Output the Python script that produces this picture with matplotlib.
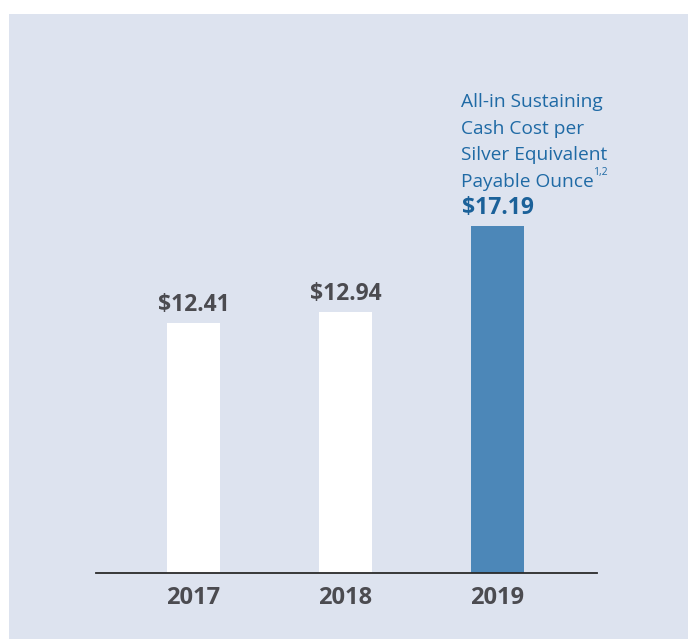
import matplotlib
matplotlib.use("Agg")
import matplotlib.pyplot as plt
from matplotlib.patches import Rectangle

years = ["2017", "2018", "2019"]
values = [12.41, 12.94, 17.19]
value_labels = ["$12.41", "$12.94", "$17.19"]
title_lines = ["All-in Sustaining", "Cash Cost per", "Silver Equivalent", "Payable Ounce"]
footnote = "1,2"

BG = "#dde3ef"
GREY = "#4b4b50"
BLUE_TXT = "#1f6aa5"
BLUE_VAL = "#1b6199"
BAR_BLUE = "#4c87b8"

plt.rcParams['font.family'] = ['Open Sans', 'DejaVu Sans']

W, H = 688, 639
fig = plt.figure(figsize=(W / 100, H / 100), dpi=100, facecolor="white")
fig.patches.append(Rectangle((9 / W, 0), 1 - 9 / W, 1 - 14 / H, transform=fig.transFigure,
                             facecolor=BG, edgecolor="none", zorder=-10))

ax = fig.add_axes([96 / W, (H - 573) / H, 501 / W, 513 / H])
ax.set_zorder(1)
ax.set_facecolor("none")
x = list(range(len(years)))
colors = ["white", "white", BAR_BLUE]
ax.bar(x, values, width=0.349, color=colors, edgecolor="none", zorder=2)
ax.set_xlim(-0.641, 2.655)
ax.set_ylim(0, 25.42)

for s in ["top", "right", "left"]:
    ax.spines[s].set_visible(False)
ax.spines["bottom"].set_color("#2a2a2a")
ax.spines["bottom"].set_linewidth(1.3)
ax.spines["bottom"].set_zorder(3)
ax.set_yticks([])
ax.set_xticks(x)
ax.set_xticklabels(years, fontsize=17, fontweight="bold", color=GREY)
ax.tick_params(axis="x", length=0, pad=9)

for i, (v, lab) in enumerate(zip(values, value_labels)):
    c = BLUE_VAL if i == 2 else GREY
    ax.annotate(lab, xy=(i, v), xytext=(0, 8.6), textcoords="offset points",
                ha="center", va="baseline", fontsize=16.5, fontweight="bold", color=c)

# title lines above the 2019 bar
offsets = [85.7, 66.5, 47.3, 28.1]
texts = []
for line, off in zip(title_lines, offsets):
    t = ax.annotate(line, xy=(2, values[2]), xytext=(-26.3, off), textcoords="offset points",
                    ha="left", va="baseline", fontsize=13.8, color=BLUE_TXT)
    texts.append(t)

fig.canvas.draw()
r = fig.canvas.get_renderer()
bb = texts[-1].get_window_extent(r)
xr, _ = ax.transData.inverted().transform((bb.x1 - 1, 0))
ax.annotate(footnote, xy=(xr, values[2]), xytext=(0, 28.1 + 9), textcoords="offset points",
            ha="left", va="baseline", fontsize=7.5, color=BLUE_TXT, annotation_clip=False)

fig.savefig("out.png", dpi=100, facecolor="white")
